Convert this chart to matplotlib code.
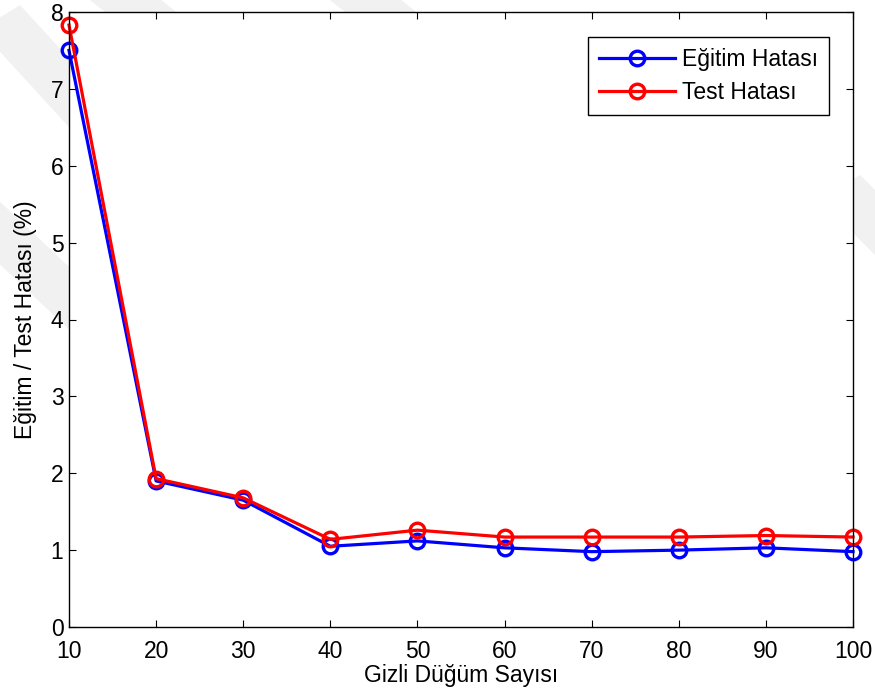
import numpy as np
import matplotlib.pyplot as plt
from matplotlib.patches import Polygon

plt.rcParams['font.family'] = ['Liberation Sans', 'DejaVu Sans']

# hidden node counts and error rates (%)
nodes = [10, 20, 30, 40, 50, 60, 70, 80, 90, 100]
train_err = [7.50, 1.90, 1.65, 1.05, 1.12, 1.03, 0.98, 1.00, 1.03, 0.98]
test_err = [7.83, 1.93, 1.68, 1.14, 1.26, 1.17, 1.17, 1.17, 1.19, 1.17]

W, H = 875, 697
fig = plt.figure(figsize=(W / 100, H / 100), dpi=100)

# faint diagonal watermark strokes behind the axes (pixel coords, y down)
bands = [(-20, 30, 90, 150), (-100, 170, 80, 340), (90, 0, 140, 40),
         (330, 0, 380, 40), (820, 200, 880, 260)]
for x1, y1, x2, y2 in bands:
    pts = [(x1, y1), (x1 + 40, y1 - 25), (x2 + 40, y2 - 25), (x2, y2)]
    pts = [(x / W, 1 - y / H) for x, y in pts]
    fig.patches.append(Polygon(pts, closed=True, transform=fig.transFigure,
                               facecolor='#f1f1f1', edgecolor='none', zorder=0))

ax = fig.add_axes([69 / W, 1 - 627 / H, 784 / W, 615 / H])
ax.set_zorder(1)

ax.plot(nodes, train_err, '-o', color='b', lw=2.3, ms=10.5, mfc='none', mew=2.4,
        label='Eğitim Hatası', clip_on=False)
ax.plot(nodes, test_err, '-o', color='r', lw=2.3, ms=10.5, mfc='none', mew=2.4,
        label='Test Hatası', clip_on=False)

ax.set_xlim(10, 100)
ax.set_ylim(0, 8)
ax.set_xticks(nodes)
ax.set_yticks(range(9))
ax.tick_params(direction='in', top=True, right=True, labelsize=16.5, length=5)
ax.tick_params(axis='x', pad=9)
ax.tick_params(axis='y', pad=4)
for s in ax.spines.values():
    s.set_linewidth(1.0)
ax.set_xlabel('Gizli Düğüm Sayısı', fontsize=16.5, labelpad=1)
ax.set_ylabel('Eğitim / Test Hatası (%)', fontsize=16.5, labelpad=10)

leg = ax.legend(loc='upper right', bbox_to_anchor=(829 / W, 1 - 37 / H),
                bbox_transform=fig.transFigure, borderaxespad=0,
                fontsize=16.5, fancybox=False, edgecolor='k', framealpha=1,
                handlelength=3.3, handletextpad=0.3, labelspacing=0.4,
                borderpad=0.5)
leg.get_frame().set_linewidth(1.0)

plt.savefig('out.png')
